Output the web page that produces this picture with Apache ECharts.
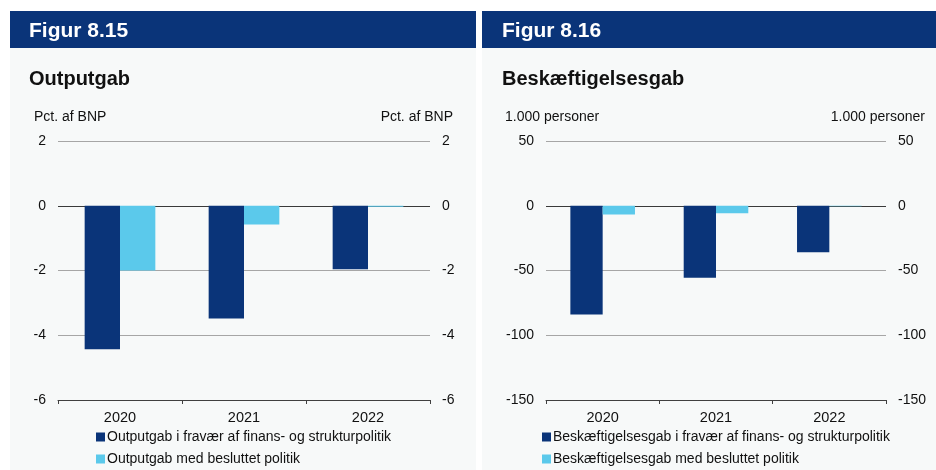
<!DOCTYPE html>
<html>
<head>
<meta charset="utf-8">
<script src="https://cdn.jsdelivr.net/npm/echarts@6/dist/echarts.min.js"></script>
<style>
  html, body { margin: 0; padding: 0; background: #ffffff; }
  #chart { width: 936px; height: 470px; }
</style>
</head>
<body>
<div id="chart"></div>
<script>
// Years on the category axis (shared by both panels)
const years = ['2020', '2021', '2022'];

// Figur 8.15 – Outputgab (pct. af BNP)
const outputNoPolicy = [-4.43, -3.48, -1.96];
const outputWithPolicy = [-2.0, -0.58, -0.03];
const outputTicks = { min: -6, max: 2, interval: 2 };

// Figur 8.16 – Beskæftigelsesgab (1.000 personer)
const empNoPolicy = [-84, -55.6, -36];
const empWithPolicy = [-6.7, -5.7, -0.4];
const empTicks = { min: -150, max: 50, interval: 50 };

const seriesNames = [
  'Outputgab i fravær af finans- og strukturpolitik',
  'Outputgab med besluttet politik',
  'Beskæftigelsesgab i fravær af finans- og strukturpolitik',
  'Beskæftigelsesgab med besluttet politik'
];

const DARK = '#0a3479';
const LIGHT = '#5bc9eb';
const PANEL = '#f7f9f9';
const FONT = '"Liberation Sans", Arial, sans-serif';
const TXT = '#111111';
const FS = 14;

function gridLineColors(t) {
  const n = Math.round((t.max - t.min) / t.interval) + 1;
  const arr = [];
  for (let i = 0; i < n; i++) {
    const v = t.min + i * t.interval;
    arr.push(v === 0 ? '#3a3a3a' : '#a6a6a6');
  }
  return arr;
}

function yAxes(gridIndex, t) {
  const base = {
    type: 'value', gridIndex: gridIndex,
    min: t.min, max: t.max, interval: t.interval,
    axisLine: { show: false }, axisTick: { show: false },
    axisLabel: { color: TXT, fontFamily: FONT, fontSize: FS, margin: 12 }
  };
  return [
    Object.assign({}, base, {
      position: 'left',
      splitLine: { show: true, lineStyle: { color: gridLineColors(t), width: 1 } }
    }),
    Object.assign({}, base, {
      position: 'right',
      splitLine: { show: false }
    })
  ];
}

function xAxis(gridIndex) {
  return {
    type: 'category', gridIndex: gridIndex, data: years,
    position: 'bottom',
    axisLine: { show: true, onZero: false, lineStyle: { color: '#404040', width: 1 } },
    axisTick: { show: true, length: 4, inside: false, lineStyle: { color: '#404040' } },
    axisLabel: { color: TXT, fontFamily: FONT, fontSize: 14.5, margin: 10 }
  };
}

function barSeries(name, data, color, xi, yi) {
  return {
    type: 'bar', name: name, data: data,
    xAxisIndex: xi, yAxisIndex: yi,
    barWidth: '28.5%', barGap: '0%',
    itemStyle: { color: color },
    emphasis: { disabled: true },
    animation: false
  };
}

// one legend entry per component, so each row sits exactly where it should
function legendRow(name, left, top) {
  return {
    data: [name], left: left, top: top,
    icon: 'rect', itemWidth: 9, itemHeight: 9,
    padding: 0,
    textStyle: { color: TXT, fontFamily: FONT, fontSize: FS, padding: [0, 0, 0, -3] },
    selectedMode: false
  };
}

function text(x, y, str, opts) {
  return {
    type: 'text', x: x, y: y, silent: true,
    style: Object.assign({
      text: str, fill: TXT, font: FS + 'px ' + FONT,
      textVerticalAlign: 'middle'
    }, opts || {})
  };
}

const chart = echarts.init(document.getElementById('chart'), null, { renderer: 'canvas' });

const option = {
  animation: false,
  backgroundColor: '#ffffff',
  graphic: [
    // panel backgrounds
    { type: 'rect', z: -10, shape: { x: 10, y: 47, width: 466, height: 423 }, style: { fill: PANEL } },
    { type: 'rect', z: -10, shape: { x: 482, y: 47, width: 454, height: 423 }, style: { fill: PANEL } },
    // header bands
    { type: 'rect', z: -5, shape: { x: 10, y: 11, width: 466, height: 37 }, style: { fill: DARK } },
    { type: 'rect', z: -5, shape: { x: 482, y: 11, width: 454, height: 37 }, style: { fill: DARK } },
    text(29, 31, 'Figur 8.15', { fill: '#ffffff', font: 'bold 21px ' + FONT }),
    text(502, 31, 'Figur 8.16', { fill: '#ffffff', font: 'bold 21px ' + FONT }),
    // chart titles
    text(29, 79, 'Outputgab', { font: 'bold 20px ' + FONT }),
    text(502, 79, 'Beskæftigelsesgab', { font: 'bold 20px ' + FONT }),
    // unit labels
    text(34, 117, 'Pct. af BNP'),
    text(453, 117, 'Pct. af BNP', { textAlign: 'right' }),
    text(505, 117, '1.000 personer'),
    text(925, 117, '1.000 personer', { textAlign: 'right' })
  ],
  grid: [
    { left: 58, right: 506, top: 141, bottom: 70 },
    { left: 546, right: 50, top: 141, bottom: 70 }
  ],
  xAxis: [xAxis(0), xAxis(1)],
  yAxis: yAxes(0, outputTicks).concat(yAxes(1, empTicks)),
  legend: [
    legendRow(seriesNames[0], 96, 430),
    legendRow(seriesNames[1], 96, 452),
    legendRow(seriesNames[2], 542, 430),
    legendRow(seriesNames[3], 542, 452)
  ],
  series: [
    barSeries(seriesNames[0], outputNoPolicy, DARK, 0, 0),
    barSeries(seriesNames[1], outputWithPolicy, LIGHT, 0, 0),
    barSeries(seriesNames[2], empNoPolicy, DARK, 1, 2),
    barSeries(seriesNames[3], empWithPolicy, LIGHT, 1, 2)
  ]
};

chart.setOption(option);
</script>
</body>
</html>
